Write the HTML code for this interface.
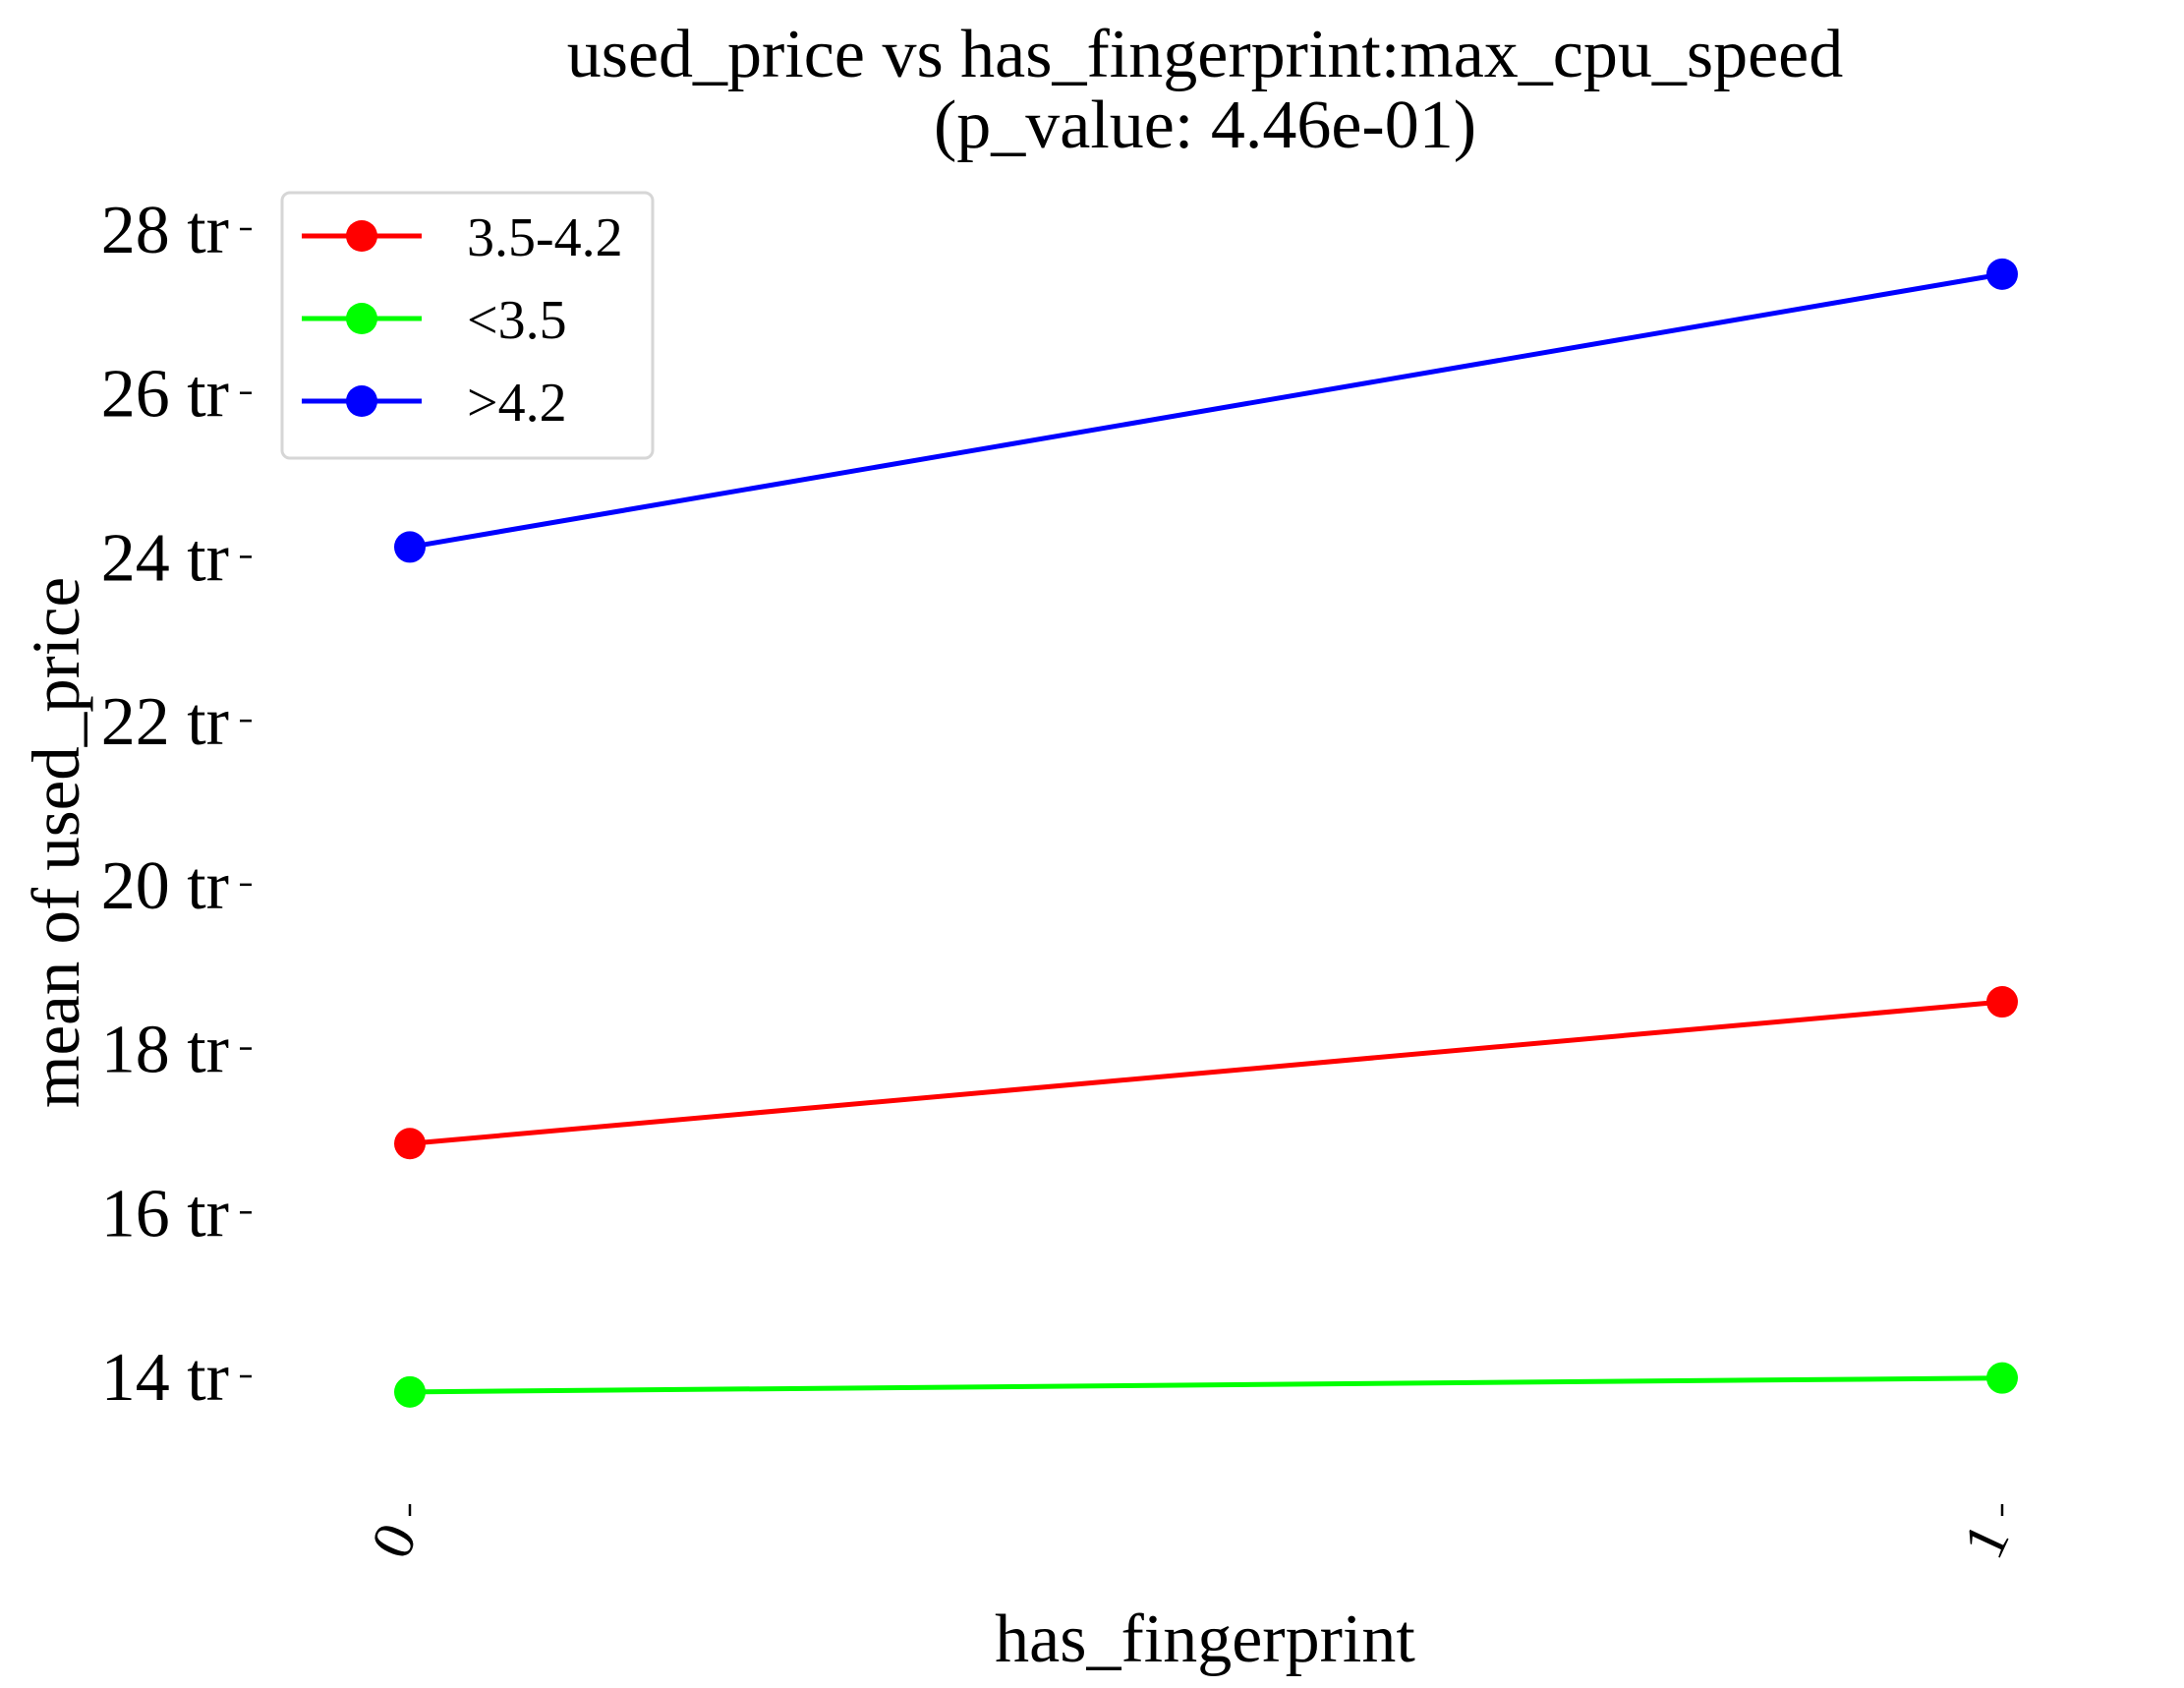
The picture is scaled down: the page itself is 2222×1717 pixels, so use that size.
<!DOCTYPE html>
<html><head><meta charset="utf-8"><style>
html,body{margin:0;padding:0;background:#fff;}
svg{display:block;font-family:"Liberation Serif",serif;}
</style></head><body>
<svg id="chart" width="2222" height="1717" viewBox="0 0 2222 1717" xmlns="http://www.w3.org/2000/svg">
<text x="1226" y="78" font-size="70" text-anchor="middle">used_price vs has_fingerprint:max_cpu_speed</text>
<text x="1226" y="150" font-size="70" text-anchor="middle">(p_value: 4.46e-01)</text>
<text transform="translate(80,857) rotate(-90)" font-size="69" text-anchor="middle">mean of used_price</text>
<text x="1226" y="1690" font-size="70" text-anchor="middle">has_fingerprint</text>
<g id="yaxis"></g>
<g id="xaxis"></g>
<g id="series"></g>
<g>
<rect x="287" y="196" width="377" height="270" rx="8" fill="#fff" stroke="#d6d6d6" stroke-width="3"/>
<g id="legend"></g>
</g>
</svg>
<script>
const categories = ["0", "1"];
const seriesNames = ["3.5-4.2", "<3.5", ">4.2"];
const seriesColors = ["#ff0000", "#00ff00", "#0000ff"];
const redValues = [16.84, 18.57];
const greenValues = [13.81, 13.98];
const blueValues = [24.12, 27.45];
const yTicks = [14, 16, 18, 20, 22, 24, 26, 28];
const yTickLabels = ["14 tr", "16 tr", "18 tr", "20 tr", "22 tr", "24 tr", "26 tr", "28 tr"];

const NS = "http://www.w3.org/2000/svg";
function yScale(v){ return 1400 - (v - 14) * (1400 - 233) / 14; }
function xScale(i){ return 417 + i * (2037 - 417) / (categories.length - 1); }
function mk(tag, attrs, parent){ const e = document.createElementNS(NS, tag); for (const k in attrs) e.setAttribute(k, attrs[k]); parent.appendChild(e); return e; }

const yaxis = document.getElementById('yaxis');
yTicks.forEach((t, i) => {
  const y = yScale(t);
  const tk = mk('line', {x1:244, x2:256, y1:y, y2:y, stroke:'#000', 'stroke-width':2.5}, yaxis);
  
  
  const lb = mk('text', {x:233, y:y+24, 'font-size':70, 'text-anchor':'end'}, yaxis);
  
  
  lb.textContent = yTickLabels[i];
});
const xaxis = document.getElementById('xaxis');
categories.forEach((c, i) => {
  const x = xScale(i);
  const tk = mk('line', {x1:x, x2:x, y1:1530, y2:1542, stroke:'#000', 'stroke-width':2.5}, xaxis);
  
  
  const lb = mk('text', {transform:'translate('+(x+8)+',1562) rotate(-65)', 'font-size':60, 'text-anchor':'end'}, xaxis);
  
  
  lb.textContent = c;
});
const all = [redValues, greenValues, blueValues];
const sg = document.getElementById('series');
all.forEach((vals, s) => {
  const pts = vals.map((v, i) => xScale(i) + ',' + yScale(v)).join(' ');
  const pl = mk('polyline', {points:pts, fill:'none', stroke:seriesColors[s], 'stroke-width':5}, sg);
  
  
  vals.forEach((v, i) => {
    const c = mk('circle', {cx:xScale(i), cy:yScale(v), r:16, fill:seriesColors[s]}, sg);
    
    
  });
});
const lg = document.getElementById('legend');
seriesNames.forEach((n, s) => {
  const y = 240 + s * 84;
  const l = mk('line', {x1:307, x2:429, y1:y, y2:y, stroke:seriesColors[s], 'stroke-width':5}, lg);
  
  
  const c = mk('circle', {cx:368, cy:y, r:16, fill:seriesColors[s]}, lg);
  
  
  const t = mk('text', {x:475, y:y+20, 'font-size':56}, lg);
  
  
  t.textContent = n;
});
</script>
</body></html>
